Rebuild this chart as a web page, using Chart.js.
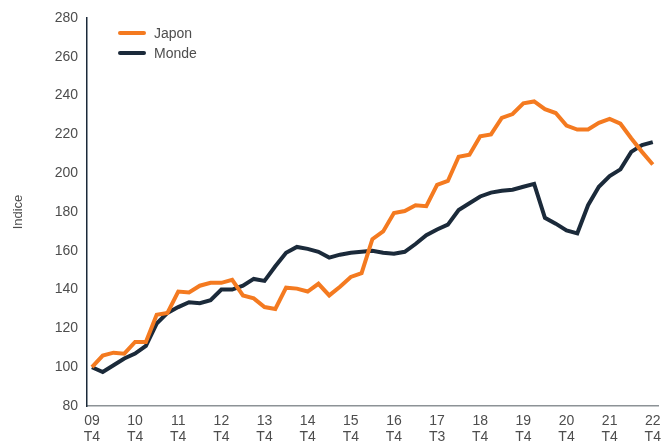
<!DOCTYPE html>
<html>
<head>
<meta charset="utf-8">
<script src="https://cdn.jsdelivr.net/npm/chart.js@4.4.1/dist/chart.umd.min.js"></script>
<style>
  body { margin: 0; background: #fff; }
  .wrap { position: relative; width: 668px; height: 448px; }
  .legende { position: absolute; left: 118px; top: 23px; font-family: "Liberation Sans", Arial, sans-serif; font-size: 14px; color: #4d4d4d; }
  .legende div { height: 20px; line-height: 20px; display: flex; align-items: center; }
  .legende span.trait { display: inline-block; width: 28px; height: 4px; border-radius: 2px; margin-right: 8px; }
</style>
</head>
<body>
<div class="wrap">
  <canvas id="graphique" width="668" height="448"></canvas>
  <div class="legende" id="legende"></div>
</div>
<script>
// trimestres, de 09 T4 a 22 T4
const trimestres = [
  "09 T4",
  "10 T1", "10 T2", "10 T3", "10 T4",
  "11 T1", "11 T2", "11 T3", "11 T4",
  "12 T1", "12 T2", "12 T3", "12 T4",
  "13 T1", "13 T2", "13 T3", "13 T4",
  "14 T1", "14 T2", "14 T3", "14 T4",
  "15 T1", "15 T2", "15 T3", "15 T4",
  "16 T1", "16 T2", "16 T3", "16 T4",
  "17 T1", "17 T2", "17 T3", "17 T4",
  "18 T1", "18 T2", "18 T3", "18 T4",
  "19 T1", "19 T2", "19 T3", "19 T4",
  "20 T1", "20 T2", "20 T3", "20 T4",
  "21 T1", "21 T2", "21 T3", "21 T4",
  "22 T1", "22 T2", "22 T3", "22 T4"
];

// etiquettes affichees sous l'axe (une par an)
const etiquettesX = [
  ["09", "T4"], ["10", "T4"], ["11", "T4"], ["12", "T4"], ["13", "T4"],
  ["14", "T4"], ["15", "T4"], ["16", "T4"], ["17", "T3"], ["18", "T4"],
  ["19", "T4"], ["20", "T4"], ["21", "T4"], ["22", "T4"]
];

const japon = [
  100, 106, 107.5, 107, 113, 113, 127, 128, 139, 138.5,
  142, 143.5, 143.5, 145, 137, 135.5, 131, 130, 141, 140.5,
  139, 143, 137, 141.5, 146.5, 148.5, 166, 170, 179.5, 180.5,
  183.5, 183, 194, 196, 208.5, 209.5, 219, 220, 228.5, 230.5,
  236, 237, 233, 231, 224.5, 222.5, 222.5, 226, 228, 225.5,
  218, 211, 204.5
];

const monde = [
  100, 97.5, 101, 104.5, 107, 111, 122.5, 128, 131, 133.5,
  133, 134.5, 140, 140, 142, 145.5, 144.5, 152, 159, 162,
  161, 159.5, 156.5, 158, 159, 159.5, 160, 159, 158.5, 159.5,
  163.5, 168, 171, 173.5, 181, 184.5, 188, 190, 191, 191.5,
  193, 194.5, 177, 174, 170.5, 169, 183.5, 193, 198.5, 202,
  211, 214.5, 216
];

const ticksY = [80, 100, 120, 140, 160, 180, 200, 220, 240, 260, 280];

const ORANGE = "#f47a20";
const MARINE = "#1b2a3a";
const police = "'Liberation Sans', Arial, sans-serif";

const enPoints = (serie) => serie.map((v, i) => ({ x: i, y: v }));

const series = [
  { label: "Japon", data: enPoints(japon), couleur: ORANGE },
  { label: "Monde", data: enPoints(monde), couleur: MARINE }
];

// legende en html
const legende = document.getElementById("legende");
series.forEach(s => {
  const ligne = document.createElement("div");
  ligne.innerHTML = '<span class="trait" style="background:' + s.couleur + '"></span>' + s.label;
  legende.appendChild(ligne);
});

new Chart(document.getElementById("graphique"), {
  type: "line",
  data: {
    labels: trimestres,
    datasets: series.map(s => ({
      label: s.label,
      data: s.data,
      borderColor: s.couleur,
      backgroundColor: s.couleur,
      borderWidth: 4,
      pointRadius: 0,
      tension: 0,
      fill: false
    }))
  },
  options: {
    responsive: false,
    animation: false,
    layout: { padding: { top: 18, right: 5, left: 11, bottom: 0 } },
    plugins: { legend: { display: false }, tooltip: { enabled: false } },
    scales: {
      x: {
        type: "linear",
        min: -0.46,
        max: 52.55,
        grid: { display: false, drawTicks: false },
        border: { display: true, color: "#8c9296", width: 1.5 },
        afterBuildTicks: (axe) => {
          axe.ticks = etiquettesX.map((e, k) => ({ value: k * 4 }));
        },
        afterFit: (axe) => { axe.height = 42; },
        ticks: {
          autoSkip: false,
          maxRotation: 0,
          padding: 7,
          color: "#4d4d4d",
          font: { family: police, size: 14, lineHeight: 1.15 },
          callback: (val) => etiquettesX[Math.round(val / 4)]
        }
      },
      y: {
        min: 80,
        max: 280,
        grid: { display: false, drawTicks: false },
        border: { display: true, color: MARINE, width: 1.5 },
        afterBuildTicks: (axe) => {
          axe.ticks = ticksY.map(v => ({ value: v }));
        },
        afterFit: (axe) => { axe.width = 76; },
        ticks: {
          padding: 9,
          color: "#4d4d4d",
          font: { family: police, size: 14 }
        },
        title: {
          display: true,
          text: "Indice",
          color: "#4d4d4d",
          font: { family: police, size: 13 },
          padding: { top: 0, bottom: 4 }
        }
      }
    }
  }
});
</script>
</body>
</html>
